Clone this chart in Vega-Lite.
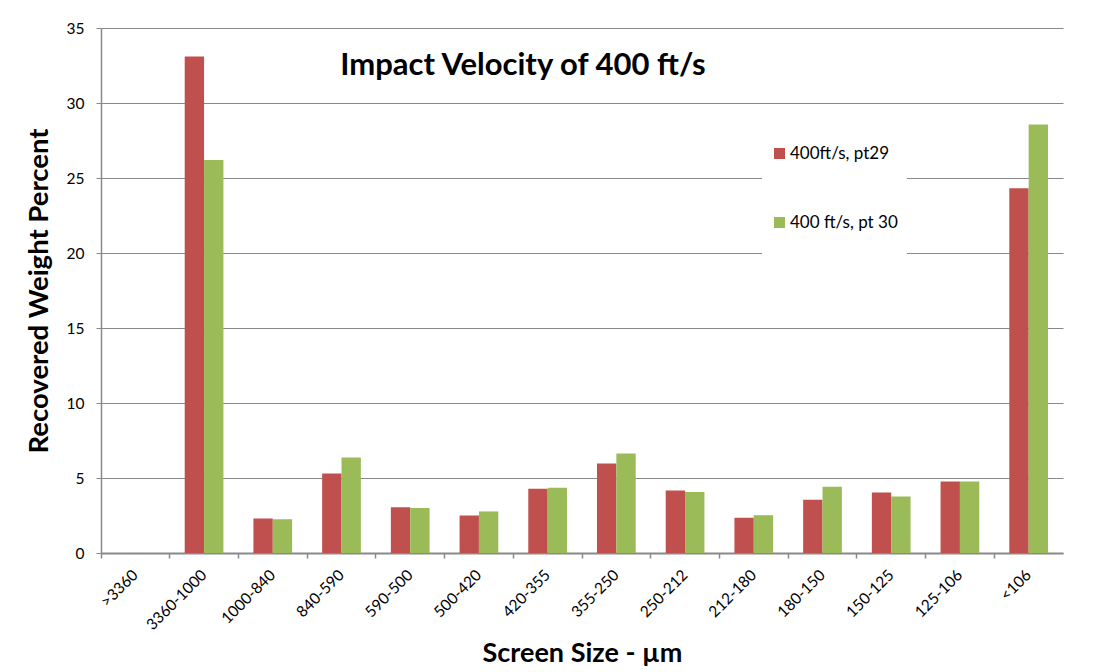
{
  "$schema": "https://vega.github.io/schema/vega-lite/v6.json",
  "autosize": {"type": "none"},
  "width": 962,
  "height": 525,
  "padding": {"left": 101, "top": 28, "right": 57, "bottom": 119},
  "background": "white",
  "config": {
    "font": "Lato",
    "view": {"stroke": null}
  },
  "title": {
    "text": "Impact Velocity of 400 ft/s",
    "font": "Lato",
    "fontSize": 31,
    "fontWeight": "bold",
    "color": "black",
    "anchor": "middle",
    "frame": "group",
    "baseline": "alphabetic",
    "offset": 0,
    "dx": -59,
    "dy": 85
  },
  "data": {
    "values": [
      {"size": ">3360", "series": "400ft/s, pt29", "value": 0},
      {"size": ">3360", "series": "400 ft/s, pt 30", "value": 0},
      {"size": "3360-1000", "series": "400ft/s, pt29", "value": 33.1},
      {"size": "3360-1000", "series": "400 ft/s, pt 30", "value": 26.2},
      {"size": "1000-840", "series": "400ft/s, pt29", "value": 2.3},
      {"size": "1000-840", "series": "400 ft/s, pt 30", "value": 2.25},
      {"size": "840-590", "series": "400ft/s, pt29", "value": 5.3},
      {"size": "840-590", "series": "400 ft/s, pt 30", "value": 6.37},
      {"size": "590-500", "series": "400ft/s, pt29", "value": 3.05},
      {"size": "590-500", "series": "400 ft/s, pt 30", "value": 3.0},
      {"size": "500-420", "series": "400ft/s, pt29", "value": 2.5},
      {"size": "500-420", "series": "400 ft/s, pt 30", "value": 2.77},
      {"size": "420-355", "series": "400ft/s, pt29", "value": 4.28},
      {"size": "420-355", "series": "400 ft/s, pt 30", "value": 4.35},
      {"size": "355-250", "series": "400ft/s, pt29", "value": 5.97},
      {"size": "355-250", "series": "400 ft/s, pt 30", "value": 6.63},
      {"size": "250-212", "series": "400ft/s, pt29", "value": 4.17},
      {"size": "250-212", "series": "400 ft/s, pt 30", "value": 4.06},
      {"size": "212-180", "series": "400ft/s, pt29", "value": 2.35},
      {"size": "212-180", "series": "400 ft/s, pt 30", "value": 2.52},
      {"size": "180-150", "series": "400ft/s, pt29", "value": 3.55},
      {"size": "180-150", "series": "400 ft/s, pt 30", "value": 4.41},
      {"size": "150-125", "series": "400ft/s, pt29", "value": 4.03},
      {"size": "150-125", "series": "400 ft/s, pt 30", "value": 3.77},
      {"size": "125-106", "series": "400ft/s, pt29", "value": 4.77},
      {"size": "125-106", "series": "400 ft/s, pt 30", "value": 4.77},
      {"size": "<106", "series": "400ft/s, pt29", "value": 24.32},
      {"size": "<106", "series": "400 ft/s, pt 30", "value": 28.57}
    ]
  },
  "mark": {"type": "bar"},
  "encoding": {
    "x": {
      "field": "size",
      "type": "nominal",
      "sort": null,
      "scale": {"paddingInner": 0, "paddingOuter": 0},
      "axis": {
        "title": "Screen Size - µm",
        "titleFont": "Lato",
        "titleFontSize": 27,
        "titleFontWeight": "bold",
        "titleColor": "black",
        "titlePadding": 8,
        "labelAngle": -45,
        "labelAlign": "right",
        "labelBaseline": "middle",
        "labelFontSize": 15.5,
        "labelColor": "black",
        "labelPadding": 14,
        "labelFlush": false,
        "labelOverlap": false,
        "bandPosition": 0,
        "ticks": true,
        "tickSize": 5,
        "tickColor": "#898989",
        "tickWidth": 1.5,
        "domainColor": "#898989",
        "domainWidth": 2,
        "grid": false
      }
    },
    "xOffset": {
      "field": "series",
      "type": "nominal",
      "scale": {
        "domain": ["400ft/s, pt29", "400 ft/s, pt 30"],
        "paddingInner": 0,
        "paddingOuter": 0.775
      }
    },
    "y": {
      "field": "value",
      "type": "quantitative",
      "scale": {"domain": [0, 35], "nice": false},
      "axis": {
        "title": "Recovered Weight Percent",
        "titleFont": "Lato",
        "titleFontSize": 27.5,
        "titleFontWeight": "bold",
        "titleColor": "black",
        "titlePadding": 13,
        "values": [0, 5, 10, 15, 20, 25, 30, 35],
        "labelFontSize": 15.5,
        "labelColor": "black",
        "labelPadding": 12,
        "tickSize": 5,
        "tickColor": "#898989",
        "domainColor": "#898989",
        "domainWidth": 1.5,
        "gridColor": "#898989",
        "gridWidth": 1.2
      }
    },
    "color": {
      "field": "series",
      "type": "nominal",
      "scale": {
        "domain": ["400ft/s, pt29", "400 ft/s, pt 30"],
        "range": ["#C0504D", "#9BBB59"]
      },
      "legend": {
        "title": " ",
        "titleOrient": "bottom",
        "titleFontSize": 14,
        "titlePadding": 8,
        "orient": "none",
        "legendX": 661,
        "legendY": 108,
        "symbolType": "square",
        "symbolSize": 121,
        "symbolStrokeWidth": 0,
        "labelFontSize": 17,
        "labelColor": "black",
        "labelOffset": 2,
        "rowPadding": 51,
        "padding": 9,
        "fillColor": "white",
        "strokeColor": null
      }
    }
  }
}
